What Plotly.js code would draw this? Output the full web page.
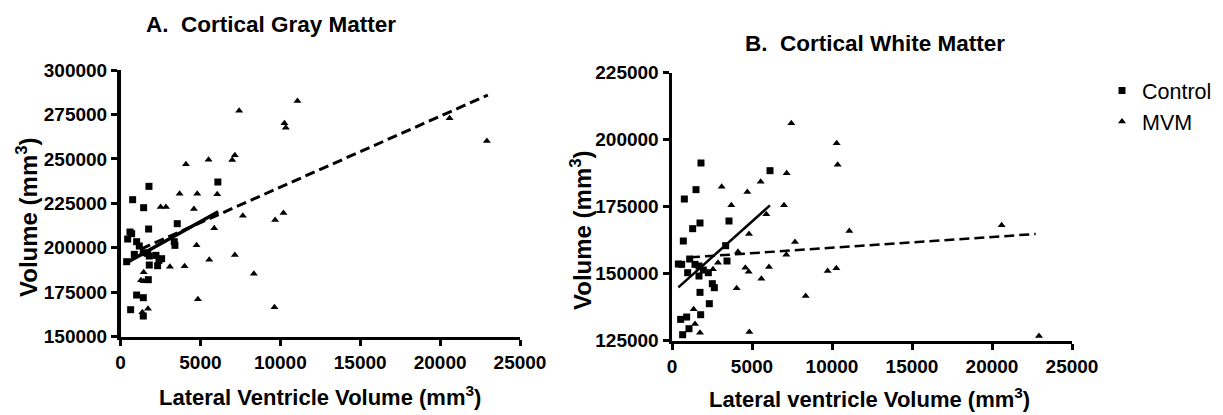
<!DOCTYPE html>
<html>
<head>
<meta charset="utf-8">
<script src="https://cdn.plot.ly/plotly-3.0.1.min.js"></script>
<style>html,body{margin:0;padding:0;background:#fff}#chart{width:1223px;height:415px}</style>
</head>
<body>
<div id="chart"></div>
<script>
// ---- Panel A: Cortical Gray Matter ----
const grayControlX = [1781, 760, 1448, 6093, 1760, 594, 698, 448, 3552, 3364, 3406, 1010, 1177, 865, 1427, 1698, 1802, 2219, 2573, 2406, 1802, 2323, 1010, 1427, 635, 1427, 1740, 385];
const grayControlY = [234563, 227063, 222563, 237000, 210563, 208875, 207938, 204938, 213563, 203438, 201375, 203438, 201000, 196313, 197250, 196875, 195375, 195750, 193875, 192938, 190313, 189938, 173438, 171938, 165188, 161625, 182063, 192188];
const grayMvmX = [11073, 7427, 10260, 10344, 5510, 7156, 6990, 4094, 3698, 4802, 6052, 2510, 2844, 4594, 7656, 10198, 9677, 5865, 4760, 5552, 7156, 3094, 4010, 8344, 1448, 1281, 1448, 4844, 9635, 1719, 1365, 20594, 22927];
const grayMvmY = [282563, 277125, 270000, 267563, 249563, 252000, 249375, 246938, 230438, 230438, 230063, 222938, 222938, 221813, 218063, 219563, 215625, 210938, 201375, 193313, 195938, 189375, 189563, 185438, 186188, 181688, 181125, 171000, 166500, 165750, 163688, 272836, 260070];
const grayFitControlX = [300, 6115];
const grayFitControlY = [191250, 220313];
const grayFitMvmX = [1281, 22990];
const grayFitMvmY = [199311, 285930];

// ---- Panel B: Cortical White Matter ----
const whiteControlX = [1812, 1500, 771, 6125, 1750, 1292, 3562, 708, 3354, 1104, 3437, 396, 604, 1437, 1687, 1958, 979, 1687, 2270, 2520, 2645, 1750, 2333, 541, 916, 1791, 1062, 666];
const whiteControlY = [191305, 181353, 177870, 188444, 168913, 166798, 169660, 162196, 160454, 155478, 154732, 153612, 153488, 153488, 152866, 151373, 150378, 149134, 150378, 146272, 144780, 143036, 138808, 132962, 133833, 134703, 129478, 127239];
const whiteMvmX = [7457, 10290, 10353, 7166, 5541, 3104, 4708, 3708, 7000, 5895, 11082, 4812, 7687, 4125, 7145, 2875, 2562, 4583, 4791, 6062, 5583, 9728, 10270, 4041, 8353, 1354, 1437, 1750, 4833, 20604, 22937];
const whiteMvmY = [206108, 198644, 190682, 187448, 184338, 182472, 180482, 175506, 175506, 172147, 165927, 164808, 161822, 158215, 157095, 154110, 151622, 152244, 150751, 152493, 148139, 151000, 152000, 144531, 141670, 136693, 131220, 127985, 128234, 168056, 126754];
const whiteFitControlX = [396, 6125];
const whiteFitControlY = [144904, 175506];
const whiteFitMvmX = [1125, 22730];
const whiteFitMvmY = [156100, 164810];

const xTicks = [0, 5000, 10000, 15000, 20000, 25000];
const grayYTicks = [150000, 175000, 200000, 225000, 250000, 275000, 300000];
const whiteYTicks = [125000, 150000, 175000, 200000, 225000];

const seriesNames = ['Control', 'MVM'];
const panelTitles = ['A.  Cortical Gray Matter', 'B.  Cortical White Matter'];
const xTitles = ['Lateral Ventricle Volume (mm<sup>3</sup>)', 'Lateral ventricle Volume (mm<sup>3</sup>)'];
const yTitle = 'Volume (mm<sup>3</sup>)';

const W = 1223, H = 415;
const FONT = '"Liberation Sans", Arial, Helvetica, sans-serif';

function px(x) { return x / W; }
function py(y) { return 1 - y / H; }

const sqMarker = {symbol: 'square', size: 7, color: '#000'};
const trMarker = {symbol: 'triangle-up', size: 7, color: '#000'};

const traces = [
  {x: grayControlX, y: grayControlY, type: 'scatter', mode: 'markers', name: seriesNames[0], marker: sqMarker, xaxis: 'x', yaxis: 'y', legendgroup: 'g1', showlegend: true, cliponaxis: false},
  {x: grayMvmX, y: grayMvmY, type: 'scatter', mode: 'markers', name: seriesNames[1], marker: trMarker, xaxis: 'x', yaxis: 'y', legendgroup: 'g2', showlegend: true, cliponaxis: false},
  {x: grayFitControlX, y: grayFitControlY, type: 'scatter', mode: 'lines', line: {color: '#000', width: 3.5}, xaxis: 'x', yaxis: 'y', showlegend: false, hoverinfo: 'skip'},
  {x: grayFitMvmX, y: grayFitMvmY, type: 'scatter', mode: 'lines', line: {color: '#000', width: 3, dash: '10px,5px'}, xaxis: 'x', yaxis: 'y', showlegend: false, hoverinfo: 'skip'},
  {x: whiteControlX, y: whiteControlY, type: 'scatter', mode: 'markers', name: seriesNames[0], marker: sqMarker, xaxis: 'x2', yaxis: 'y2', legendgroup: 'g1', showlegend: false, cliponaxis: false},
  {x: whiteMvmX, y: whiteMvmY, type: 'scatter', mode: 'markers', name: seriesNames[1], marker: trMarker, xaxis: 'x2', yaxis: 'y2', legendgroup: 'g2', showlegend: false, cliponaxis: false},
  {x: whiteFitControlX, y: whiteFitControlY, type: 'scatter', mode: 'lines', line: {color: '#000', width: 2.5}, xaxis: 'x2', yaxis: 'y2', showlegend: false, hoverinfo: 'skip'},
  {x: whiteFitMvmX, y: whiteFitMvmY, type: 'scatter', mode: 'lines', line: {color: '#000', width: 2.5, dash: '10px,5px'}, xaxis: 'x2', yaxis: 'y2', showlegend: false, hoverinfo: 'skip'}
];

const axisCommon = {
  showgrid: false, zeroline: false, showline: true, linecolor: '#000', linewidth: 3.5,
  ticks: 'outside', ticklen: 6, tickwidth: 3, tickcolor: '#000',
  tickfont: {family: FONT, size: 19, color: '#000', weight: 'bold'},
  tickmode: 'array', fixedrange: true
};

const layout = {
  width: W, height: H,
  margin: {l: 0, r: 0, t: 0, b: 0},
  paper_bgcolor: '#fff', plot_bgcolor: '#fff',
  showlegend: true,
  legend: {x: px(1102), y: py(70), xanchor: 'left', yanchor: 'top', font: {family: FONT, size: 21.5, color: '#000'}, traceorder: 'grouped', tracegroupgap: 0, bgcolor: 'rgba(0,0,0,0)', itemclick: false},
  xaxis: Object.assign({}, axisCommon, {domain: [px(120.5), px(520)], range: [0, 25000], tickvals: xTicks, ticktext: xTicks.map(String), anchor: 'y'}),
  yaxis: Object.assign({}, axisCommon, {domain: [py(336.7), py(70)], range: [150000, 300000], tickvals: grayYTicks, ticktext: grayYTicks.map(String), anchor: 'x'}),
  xaxis2: Object.assign({}, axisCommon, {domain: [px(672), px(1072)], range: [0, 25000], tickvals: xTicks, ticktext: xTicks.map(String), anchor: 'y2'}),
  yaxis2: Object.assign({}, axisCommon, {domain: [py(340.7), py(72.7)], range: [125000, 225000], tickvals: whiteYTicks, ticktext: whiteYTicks.map(String), anchor: 'x2'}),
  annotations: [
    {text: '<b>' + panelTitles[0] + '</b>', x: px(271), y: py(24), xref: 'paper', yref: 'paper', xanchor: 'center', yanchor: 'middle', showarrow: false, font: {family: FONT, size: 22.5, color: '#000'}},
    {text: '<b>' + panelTitles[1] + '</b>', x: px(875), y: py(44), xref: 'paper', yref: 'paper', xanchor: 'center', yanchor: 'middle', showarrow: false, font: {family: FONT, size: 22.5, color: '#000'}},
    {text: '<b>' + xTitles[0] + '</b>', x: px(320), y: py(396), xref: 'paper', yref: 'paper', xanchor: 'center', yanchor: 'middle', showarrow: false, font: {family: FONT, size: 22, color: '#000'}},
    {text: '<b>' + xTitles[1] + '</b>', x: px(870), y: py(398), xref: 'paper', yref: 'paper', xanchor: 'center', yanchor: 'middle', showarrow: false, font: {family: FONT, size: 22, color: '#000'}},
    {text: '<b>' + yTitle + '</b>', x: px(27), y: py(217), xref: 'paper', yref: 'paper', xanchor: 'center', yanchor: 'middle', textangle: -90, showarrow: false, font: {family: FONT, size: 24, color: '#000'}},
    {text: '<b>' + yTitle + '</b>', x: px(581), y: py(230), xref: 'paper', yref: 'paper', xanchor: 'center', yanchor: 'middle', textangle: -90, showarrow: false, font: {family: FONT, size: 24, color: '#000'}}
  ]
};

Plotly.newPlot('chart', traces, layout, {staticPlot: true, displayModeBar: false});
</script>
</body>
</html>
